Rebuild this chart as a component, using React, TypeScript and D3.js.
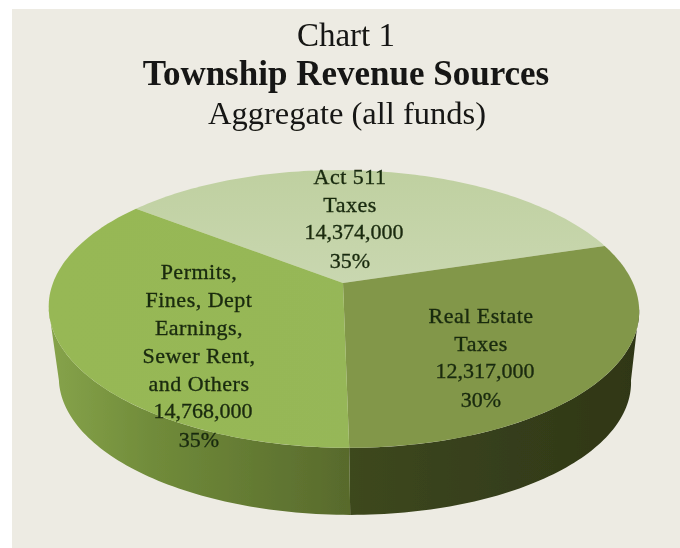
import * as d3 from "d3";

const titleLines = ["Chart 1", "Township Revenue Sources", "Aggregate (all funds)"];
const categories = ["Act 511 Taxes", "Real Estate Taxes", "Permits, Fines, Dept Earnings, Sewer Rent, and Others"];
const revenue = [14374000, 12317000, 14768000];
const percentLabels = ["35%", "30%", "35%"];
const nameLines = [
  ["Act 511", "Taxes"],
  ["Real Estate", "Taxes"],
  ["Permits,", "Fines, Dept", "Earnings,", "Sewer Rent,", "and Others"],
];

const width = 680;
const height = 548;
const serif = "'Liberation Serif', serif";
const textColor = "#1a2a0e";

// label placement, one per slice, first baseline + center
const labelPos = [
  { x: 350, y: 184 },
  { x: 481, y: 323 },
  { x: 199, y: 279 },
];
const lineStep = 28;
const valueNudge = 4;

const topColors = ["url(#act511Top)", "#82974a", "url(#permitsTop)"];
const sideColors = ["none", "url(#realSide)", "url(#permitsSide)"];

// pie seen in perspective: near side is stretched, far side squeezed
const tilt = -0.187;
const topRim = { cx: 343, cy: 283, rx: 290, ry: 134, skew: 4.9 };
const bottomRim = { cx: 344, cy: 355, rx: 281, ry: 130, skew: 4.9 };

function project(angle: number, rim: typeof topRim, r = 1): [number, number] {
  const u = r * Math.sin(angle);
  const v = -r * Math.cos(angle);
  const d = 1 + tilt * v;
  return [rim.cx + (rim.rx * u + rim.skew * v) / d, rim.cy + (rim.ry * v) / d];
}

function arcAngles(a0: number, a1: number) {
  const n = Math.max(2, Math.ceil(Math.abs(a1 - a0) / 0.02));
  return d3.range(n + 1).map(i => a0 + ((a1 - a0) * i) / n);
}

export default function App() {
  const pie = d3
    .pie<number>()
    .sort(null)
    .startAngle(-0.904)
    .endAngle(-0.904 + Math.PI * 2);
  const slices = pie(revenue);
  const line = d3.line();
  const fmt = d3.format(",");

  // the wall only shows between the two outline tangents of the rim
  const sideMin = Math.acos(tilt);
  const sideMax = Math.PI * 2 - sideMin;

  const topPaths = slices.map(s => {
    const rim = arcAngles(s.startAngle, s.endAngle).map(a => project(a, topRim));
    return line([[topRim.cx, topRim.cy], ...rim]) + "Z";
  });

  const sidePaths = slices.map(s => {
    const a0 = Math.max(s.startAngle, sideMin);
    const a1 = Math.min(s.endAngle, sideMax);
    if (a1 <= a0) return null;
    const upper = arcAngles(a0, a1).map(a => project(a, topRim));
    const lower = arcAngles(a1, a0).map(a => project(a, bottomRim));
    return line([...upper, ...lower]) + "Z";
  });

  return (
    <svg
      width={width}
      height={height}
      style={{ position: "absolute", left: 0, top: 0, display: "block", background: "#fff" }}
    >
      <defs>
        <linearGradient id="permitsSide" gradientUnits="userSpaceOnUse" x1="50" x2="349" y1="0" y2="0">
          <stop offset="0" stopColor="#86a34a" />
          <stop offset="0.35" stopColor="#708b3a" />
          <stop offset="1" stopColor="#586a2c" />
        </linearGradient>
        <linearGradient id="realSide" gradientUnits="userSpaceOnUse" x1="349" x2="640" y1="0" y2="0">
          <stop offset="0" stopColor="#3d481e" />
          <stop offset="1" stopColor="#2f3617" />
        </linearGradient>
        <linearGradient id="permitsTop" gradientUnits="userSpaceOnUse" x1="50" x2="349" y1="0" y2="0">
          <stop offset="0" stopColor="#97b854" />
          <stop offset="1" stopColor="#96b758" />
        </linearGradient>
        <linearGradient id="act511Top" gradientUnits="userSpaceOnUse" x1="340" x2="340" y1="170" y2="283">
          <stop offset="0" stopColor="#bfd0a0" />
          <stop offset="1" stopColor="#c9d7b0" />
        </linearGradient>
        <filter id="soft" x="-5%" y="-5%" width="110%" height="110%">
          <feGaussianBlur stdDeviation="0.6" />
        </filter>
      </defs>

      <rect x={12} y={9} width={width - 12} height={height - 9} fill="#edebe3" />

      <g filter="url(#soft)">
        {sidePaths.map((d, i) =>
          d ? <path key={categories[i]} d={d} fill={sideColors[i]} /> : null
        )}
        {topPaths.map((d, i) => (
          <path key={categories[i]} d={d} fill={topColors[i]} />
        ))}
      </g>

      <g fontFamily={serif} textAnchor="middle" fill="#141412" filter="url(#soft)">
        <text x={346} y={46} fontSize={33}>{titleLines[0]}</text>
        <text x={346} y={85} fontSize={35} fontWeight="bold">{titleLines[1]}</text>
        <text x={347} y={124} fontSize={32.5}>{titleLines[2]}</text>
      </g>

      <g
        fontFamily={serif}
        textAnchor="middle"
        fill={textColor}
        stroke={textColor}
        strokeWidth={0.35}
        fontSize={22}
        filter="url(#soft)"
      >
        {categories.map((c, i) => {
          const { x, y } = labelPos[i];
          const names = nameLines[i];
          return (
            <g key={c}>
              {names.map((t, j) => (
                <text key={t} x={x} y={y + j * lineStep} letterSpacing={0.5}>{t}</text>
              ))}
              <text x={x + valueNudge} y={y + names.length * lineStep - 1}>{fmt(revenue[i])}</text>
              <text x={x} y={y + (names.length + 1) * lineStep}>{percentLabels[i]}</text>
            </g>
          );
        })}
      </g>
    </svg>
  );
}
